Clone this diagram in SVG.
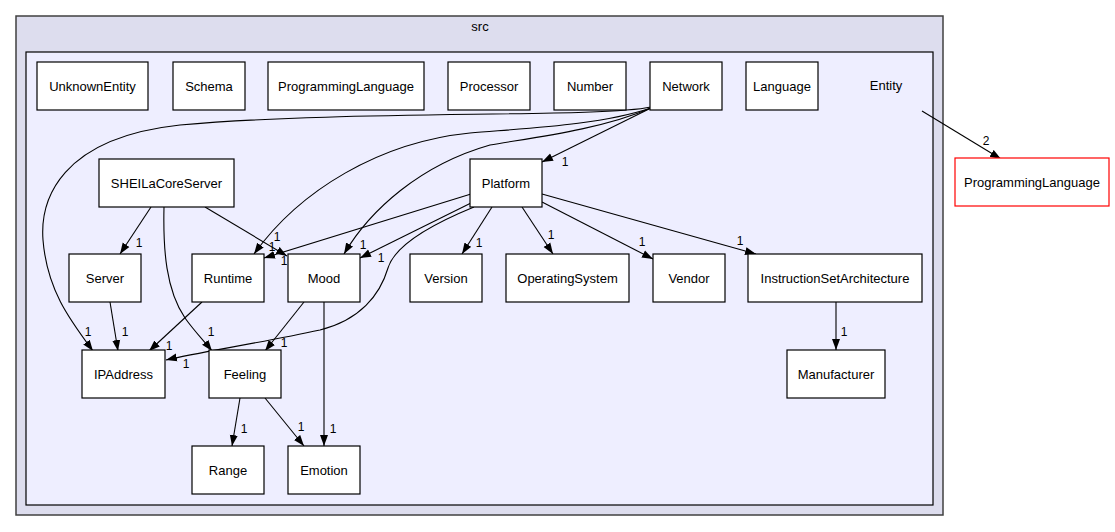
<svg xmlns="http://www.w3.org/2000/svg" width="1115" height="532" viewBox="0 0 1115 532">
<defs>
<marker id="a" markerWidth="12" markerHeight="10" refX="11" refY="4.5" orient="auto" markerUnits="userSpaceOnUse"><path d="M0,0.5 L11,4.5 L0,8.5 z" fill="#000"/></marker>
<style>
.n rect{fill:#fff;stroke:#000;stroke-width:1.2}
.t{font-family:"Liberation Sans",Arial,sans-serif;font-size:13px;text-anchor:middle;fill:#000}
.l{font-family:"Liberation Sans",Arial,sans-serif;font-size:12px;text-anchor:middle;fill:#000}
.e path{fill:none;stroke:#000;stroke-width:1.1;marker-end:url(#a)}
</style>
</defs>
<rect width="1115" height="532" fill="#fff"/>
<g id="cluster_src">
<rect x="16" y="16" width="927" height="499" fill="#ddddee" stroke="#404040" stroke-width="1.5"/>
<text class="t" x="480" y="31">src</text>
</g>
<g id="cluster_entity">
<rect x="26" y="52" width="907" height="453" fill="#eeeeff" stroke="#000" stroke-width="1.2"/>
<text class="t" x="886" y="90">Entity</text>
</g>
<g class="e" id="connectors">
<path d="M651,108 L542,162"/>
<path d="M651,108 C600,125 530,128 470,133 C380,142 300,190 254,254"/>
<path d="M651,108 C600,130 530,138 490,145 C420,165 370,210 344,254"/>
<path d="M651,107 C600,118 350,110 180,125 C60,138 40,200 43,240 C47,290 70,320 93,351"/>
<path d="M151,207 L120,254"/>
<path d="M164,207 C163,250 166,290 185,318 C195,332 205,342 212,351"/>
<path d="M205,207 L287,256"/>
<path d="M471,194 L264,258"/>
<path d="M471,203 L360,258"/>
<path d="M474,207 C430,225 395,245 388,268 C380,295 360,320 320,330 C260,343 200,352 166,360"/>
<path d="M492,207 L462,254"/>
<path d="M522,207 L553,254"/>
<path d="M542,202 L653,259"/>
<path d="M542,194 L756,254"/>
<path d="M110,302 L118,351"/>
<path d="M202,302 L149,351"/>
<path d="M304,302 L265,351"/>
<path d="M324,302 L324,446"/>
<path d="M240,398 L232,446"/>
<path d="M265,398 L304,446"/>
<path d="M836,302 L836,350"/>
<path d="M922,111 L1001,159"/>
<text class="l" x="565" y="166">1</text>
<text class="l" x="277" y="241">1</text>
<text class="l" x="363" y="249">1</text>
<text class="l" x="88" y="336">1</text>
<text class="l" x="139" y="247">1</text>
<text class="l" x="211" y="336">1</text>
<text class="l" x="284" y="265">1</text>
<text class="l" x="272" y="251">1</text>
<text class="l" x="381" y="262">1</text>
<text class="l" x="186" y="368">1</text>
<text class="l" x="479" y="247">1</text>
<text class="l" x="551" y="239">1</text>
<text class="l" x="642" y="246">1</text>
<text class="l" x="740" y="245">1</text>
<text class="l" x="125" y="336">1</text>
<text class="l" x="169" y="350">1</text>
<text class="l" x="284" y="347">1</text>
<text class="l" x="333" y="433">1</text>
<text class="l" x="244" y="433">1</text>
<text class="l" x="301" y="431">1</text>
<text class="l" x="844" y="336">1</text>
<text class="l" x="986" y="145">2</text>
</g>
<g class="n" id="UnknownEntity"><rect x="37" y="62" width="111" height="48"/><text class="t" x="92.5" y="90.5">UnknownEntity</text></g>
<g class="n" id="Schema"><rect x="173" y="62" width="72" height="48"/><text class="t" x="209" y="90.5">Schema</text></g>
<g class="n" id="ProgrammingLanguageInner"><rect x="268" y="62" width="156" height="48"/><text class="t" x="346" y="90.5">ProgrammingLanguage</text></g>
<g class="n" id="Processor"><rect x="448" y="62" width="82" height="48"/><text class="t" x="489" y="90.5">Processor</text></g>
<g class="n" id="Number"><rect x="554" y="62" width="72" height="48"/><text class="t" x="590" y="90.5">Number</text></g>
<g class="n" id="Network"><rect x="650" y="62" width="72" height="48"/><text class="t" x="686" y="90.5">Network</text></g>
<g class="n" id="Language"><rect x="746" y="62" width="72" height="48"/><text class="t" x="782" y="90.5">Language</text></g>
<g class="n" id="SHEILaCoreServer"><rect x="99" y="159" width="135" height="48"/><text class="t" x="166.5" y="187.5">SHEILaCoreServer</text></g>
<g class="n" id="Platform"><rect x="470" y="159" width="72" height="48"/><text class="t" x="506" y="187.5">Platform</text></g>
<g class="n" id="Server"><rect x="69" y="254" width="72" height="48"/><text class="t" x="105" y="282.5">Server</text></g>
<g class="n" id="Runtime"><rect x="192" y="254" width="72" height="48"/><text class="t" x="228" y="282.5">Runtime</text></g>
<g class="n" id="Mood"><rect x="288" y="254" width="72" height="48"/><text class="t" x="324" y="282.5">Mood</text></g>
<g class="n" id="Version"><rect x="410" y="254" width="72" height="48"/><text class="t" x="446" y="282.5">Version</text></g>
<g class="n" id="OperatingSystem"><rect x="506" y="254" width="123" height="48"/><text class="t" x="567.5" y="282.5">OperatingSystem</text></g>
<g class="n" id="Vendor"><rect x="653" y="254" width="72" height="48"/><text class="t" x="689" y="282.5">Vendor</text></g>
<g class="n" id="InstructionSetArchitecture"><rect x="748" y="254" width="174" height="48"/><text class="t" x="835" y="282.5">InstructionSetArchitecture</text></g>
<g class="n" id="IPAddress"><rect x="82" y="350" width="83" height="48"/><text class="t" x="123.5" y="378.5">IPAddress</text></g>
<g class="n" id="Feeling"><rect x="209" y="350" width="72" height="48"/><text class="t" x="245" y="378.5">Feeling</text></g>
<g class="n" id="Manufacturer"><rect x="787" y="350" width="98" height="48"/><text class="t" x="836" y="378.5">Manufacturer</text></g>
<g class="n" id="Range"><rect x="192" y="446" width="72" height="48"/><text class="t" x="228" y="474.5">Range</text></g>
<g class="n" id="Emotion"><rect x="288" y="446" width="72" height="48"/><text class="t" x="324" y="474.5">Emotion</text></g>
<g class="n" id="ProgrammingLanguage"><rect x="955" y="158" width="154" height="48" style="stroke:#ff0000"/><text class="t" x="1032" y="186.5">ProgrammingLanguage</text></g>
</svg>
